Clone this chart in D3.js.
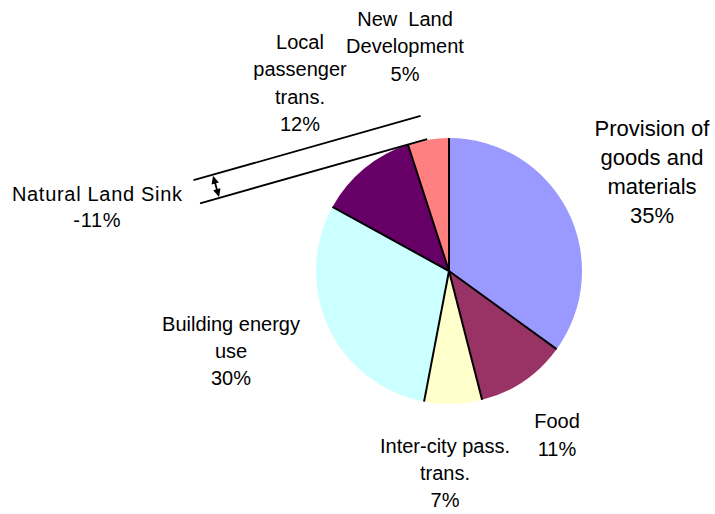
<!DOCTYPE html>
<html>
<head>
<meta charset="utf-8">
<script src="https://cdn.jsdelivr.net/npm/d3@7"></script>
<style>
  html, body { margin: 0; padding: 0; background: #fff; }
  svg { display: block; }
  text { font-family: "Liberation Sans", Arial, sans-serif; fill: #000; }
</style>
</head>
<body>
<svg id="chart" width="715" height="514"></svg>
<script>
// Emission shares by sector (percent), clockwise from 12 o'clock
const categories = [
  "Provision of goods and materials",
  "Food",
  "Inter-city pass. trans.",
  "Building energy use",
  "Local passenger trans.",
  "New Land Development"
];
const shares = [35, 11, 7, 30, 12, 5];
const labelLines = [
  ["Provision of", "goods and", "materials"],
  ["Food"],
  ["Inter-city pass.", "trans."],
  ["Building energy", "use"],
  ["Local", "passenger", "trans."],
  ["New  Land", "Development"]
];
const colors = ["#9999FF", "#993366", "#FFFFCC", "#CCFFFF", "#660066", "#FF8080"];

// Negative contribution shown as a separate callout
const sinkLines = ["Natural Land Sink"];
const sinkShare = -11;

// Label block centres relative to the pie centre, and font sizes
const labelOffsets = [[203, -99], [108, 164], [-4, 202], [-218, 80], [-149, -188], [-44, -225]];
const labelFont = [22, 20, 20, 20, 20, 20];
const labelLead = [29, 28, 27, 27, 27.5, 27.5];
const sinkOffset = [-352, -64];

const width = 715, height = 514;
const cx = 449, cy = 271, radius = 133;

const svg = d3.select("#chart");
const g = svg.append("g").attr("transform", `translate(${cx},${cy})`);

const pie = d3.pie().sort(null).value(d => d).startAngle(0).endAngle(2 * Math.PI);
const arcs = pie(shares);
const arc = d3.arc().innerRadius(0).outerRadius(radius);

// Slices
g.selectAll("path.slice")
  .data(arcs)
  .join("path")
  .attr("class", "slice")
  .attr("d", arc)
  .attr("fill", (d, i) => colors[i]);

// Radial borders between slices
g.selectAll("line.border")
  .data(arcs)
  .join("line")
  .attr("class", "border")
  .attr("x1", 0).attr("y1", 0)
  .attr("x2", d => radius * Math.sin(d.startAngle))
  .attr("y2", d => -radius * Math.cos(d.startAngle))
  .attr("stroke", "#000")
  .attr("stroke-width", 2);

// Multi-line text block centred on (x, y)
function textBlock(sel, lines, x, y, size, lead, spacing) {
  const n = lines.length;
  const cap = size * 0.716;
  const t = sel.append("text")
    .attr("text-anchor", "middle")
    .style("font-size", size + "px")
    .style("letter-spacing", (spacing || 0) + "px");
  lines.forEach((s, k) => {
    t.append("tspan")
      .attr("x", x + (spacing || 0) / 2)
      .attr("y", y + (k - (n - 1) / 2) * lead + cap / 2)
      .attr("xml:space", "preserve")
      .style("white-space", "pre")
      .text(s);
  });
}

arcs.forEach((d, i) => {
  const lines = labelLines[i].concat([shares[i] + "%"]);
  textBlock(g, lines, labelOffsets[i][0], labelOffsets[i][1], labelFont[i], labelLead[i]);
});

// Natural land sink callout: two parallel lines leaving the pie edge
// at the Local / New Land border, with a double arrow between them
const border = arcs[arcs.length - 1].startAngle;
const bx = radius * Math.sin(border), by = -radius * Math.cos(border);
const dir = -15.8 * Math.PI / 180;
const ux = Math.cos(dir), uy = Math.sin(dir);
const nx = uy, ny = -ux;           // normal pointing up-left
const gap = 24, tStart = -216, tEnd = 20;

[0, gap].forEach(off => {
  g.append("line")
    .attr("x1", bx + tStart * ux + off * nx)
    .attr("y1", by + tStart * uy + off * ny)
    .attr("x2", bx + tEnd * ux + off * nx)
    .attr("y2", by + tEnd * uy + off * ny)
    .attr("stroke", "#000")
    .attr("stroke-width", 1.8);
});

const tArrow = -196;
const ax = bx + tArrow * ux, ay = by + tArrow * uy;
const headL = 8, headW = 3.8;
g.append("line")
  .attr("x1", ax + headL * nx).attr("y1", ay + headL * ny)
  .attr("x2", ax + (gap - headL) * nx).attr("y2", ay + (gap - headL) * ny)
  .attr("stroke", "#000").attr("stroke-width", 1.8);
// arrow heads: tip on each line
[[1, 1], [gap - 1, -1]].forEach(([o, s]) => {
  const tipx = ax + o * nx, tipy = ay + o * ny;
  const basex = tipx + s * headL * nx, basey = tipy + s * headL * ny;
  const pts = [
    [tipx, tipy],
    [basex + headW * ux, basey + headW * uy],
    [basex - headW * ux, basey - headW * uy]
  ];
  g.append("path").attr("d", d3.line()(pts) + "Z").attr("fill", "#000");
});

textBlock(g, sinkLines.concat([sinkShare + "%"]), sinkOffset[0], sinkOffset[1], 20, 26.5, 0.7);
</script>
</body>
</html>
